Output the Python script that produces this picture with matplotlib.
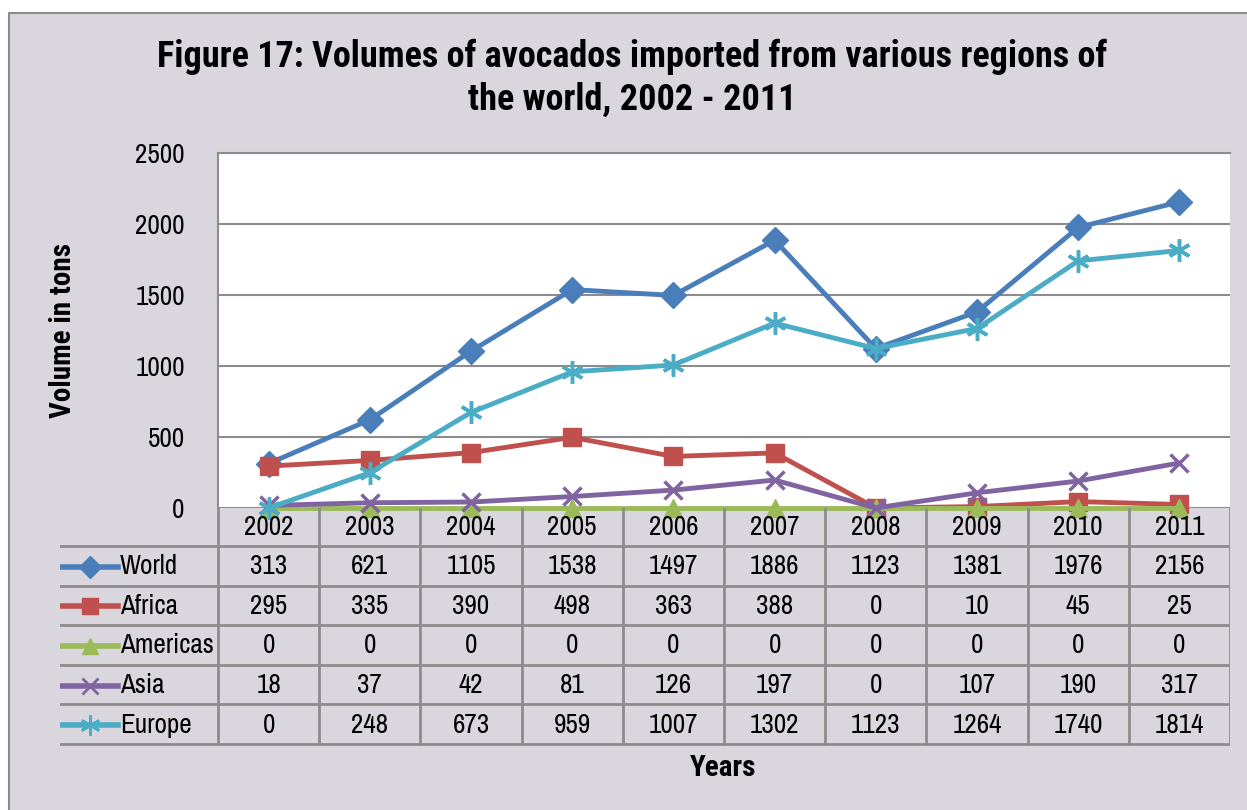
import numpy as np
import matplotlib.pyplot as plt
from matplotlib.patches import Rectangle

plt.rcParams['font.family'] = ['Archivo Narrow', 'Liberation Sans', 'DejaVu Sans']
bold_font = ['Roboto Condensed', 'PT Sans Narrow', 'Liberation Sans', 'DejaVu Sans']

years = ['2002', '2003', '2004', '2005', '2006', '2007', '2008', '2009', '2010', '2011']
world = [313, 621, 1105, 1538, 1497, 1886, 1123, 1381, 1976, 2156]
africa = [295, 335, 390, 498, 363, 388, 0, 10, 45, 25]
americas = [0, 0, 0, 0, 0, 0, 0, 0, 0, 0]
asia = [18, 37, 42, 81, 126, 197, 0, 107, 190, 317]
europe = [0, 248, 673, 959, 1007, 1302, 1123, 1264, 1740, 1814]

names = ['World', 'Africa', 'Americas', 'Asia', 'Europe']
series = [world, africa, americas, asia, europe]
colors = ['#4A7EBB', '#C0504D', '#9BBB59', '#8064A2', '#4BACC6']
markers = ['D', 's', '^', 'x', (6, 2, 0)]
msizes = [13, 13, 13, 13, 16]

W, H = 1247, 810
bg = '#D9D6DE'
grid_c = '#8C8C8C'
fs = 19.5

fig = plt.figure(figsize=(W / 100, H / 100), dpi=100, facecolor='white')

def px(x0, y0, x1, y1):
    return [x0 / W, 1 - y1 / H, (x1 - x0) / W, (y1 - y0) / H]

fig.patches.append(Rectangle((9 / W, -0.01), 1.1, 1 - 13 / H + 0.01, transform=fig.transFigure,
                             facecolor=bg, edgecolor='#8C8C8C', linewidth=1.5, zorder=-10))

x = np.arange(len(years))
ax = fig.add_axes(px(218, 153, 1230, 508))
ax.set_facecolor('white')
for s, c, m, ms in zip(series, colors, markers, msizes):
    mew = 2.5 if m == 'x' or isinstance(m, tuple) else 1
    ax.plot(x, s, color=c, linewidth=3.5, marker=m, markersize=ms, markeredgewidth=mew,
            markeredgecolor=c, markerfacecolor=c, clip_on=False, zorder=3)
ax.set_xlim(-0.5, len(years) - 0.5)
ax.set_ylim(0, 2500)
ax.set_yticks(np.arange(0, 2501, 500))
ax.set_xticks([])
ax.yaxis.grid(True, color=grid_c, linewidth=1.5)
ax.set_axisbelow(True)
ax.tick_params(axis='y', length=0, pad=24, labelsize=fs)
for k in ['left', 'top']:
    ax.spines[k].set_color(grid_c)
    ax.spines[k].set_linewidth(1.5)
ax.spines['right'].set_visible(False)
ax.spines['bottom'].set_visible(False)
ax.set_ylabel('Volume in tons', fontsize=21, fontweight='bold', labelpad=42, family=bold_font)

# data table below the plot
tx0, tx1 = 60, 1230
colw = (1230 - 218) / len(years)
tb = fig.add_axes(px(tx0, 508, tx1, 746))
tb.set_xlim(-0.5 - (218 - tx0) / colw, len(years) - 0.5)
tb.set_ylim(746, 508)
tb.axis('off')
tb.patch.set_alpha(0)
rows = [508, 546, 585.6, 625.2, 664.8, 704.4, 744]
lkw = dict(color=grid_c, linewidth=2, solid_capstyle='projecting')
left = tb.get_xlim()[0]
for yy in rows[1:]:
    tb.plot([left, len(years) - 0.5], [yy, yy], **lkw)
for j in range(len(years) + 1):
    tb.plot([j - 0.5, j - 0.5], [rows[0], rows[-1]], **lkw)
for j, yr in enumerate(years):
    tb.text(j, (rows[0] + rows[1]) / 2 + 1, yr, ha='center', va='center', fontsize=fs)
for i, (n, s, c, m, ms) in enumerate(zip(names, series, colors, markers, msizes)):
    yc = (rows[i + 1] + rows[i + 2]) / 2 + 1
    for j, v in enumerate(s):
        tb.text(j, yc, str(v), ha='center', va='center', fontsize=fs)
    lx = left + (62 - tx0) / colw
    rx = left + (118 - tx0) / colw
    mew = 2 if m == 'x' or isinstance(m, tuple) else 1
    tb.plot([lx, rx], [yc, yc], color=c, linewidth=4)
    tb.plot([(lx + rx) / 2], [yc], marker=m, color=c, markersize=ms * 0.9, markeredgewidth=mew)
    tb.text(left + (120 - tx0) / colw, yc, n, ha='left', va='center', fontsize=fs)

fig.text(632 / W, 1 - 57 / H, 'Figure 17: Volumes of avocados imported from various regions of',
         ha='center', va='center', fontsize=26, fontweight='bold', family=bold_font)
fig.text(632 / W, 1 - 100 / H, 'the world, 2002 - 2011',
         ha='center', va='center', fontsize=26, fontweight='bold', family=bold_font)
fig.text(723 / W, 1 - 768 / H, 'Years', ha='center', va='center', fontsize=21, fontweight='bold',
         family=bold_font)

fig.savefig('out.png', dpi=100, facecolor=fig.get_facecolor())
